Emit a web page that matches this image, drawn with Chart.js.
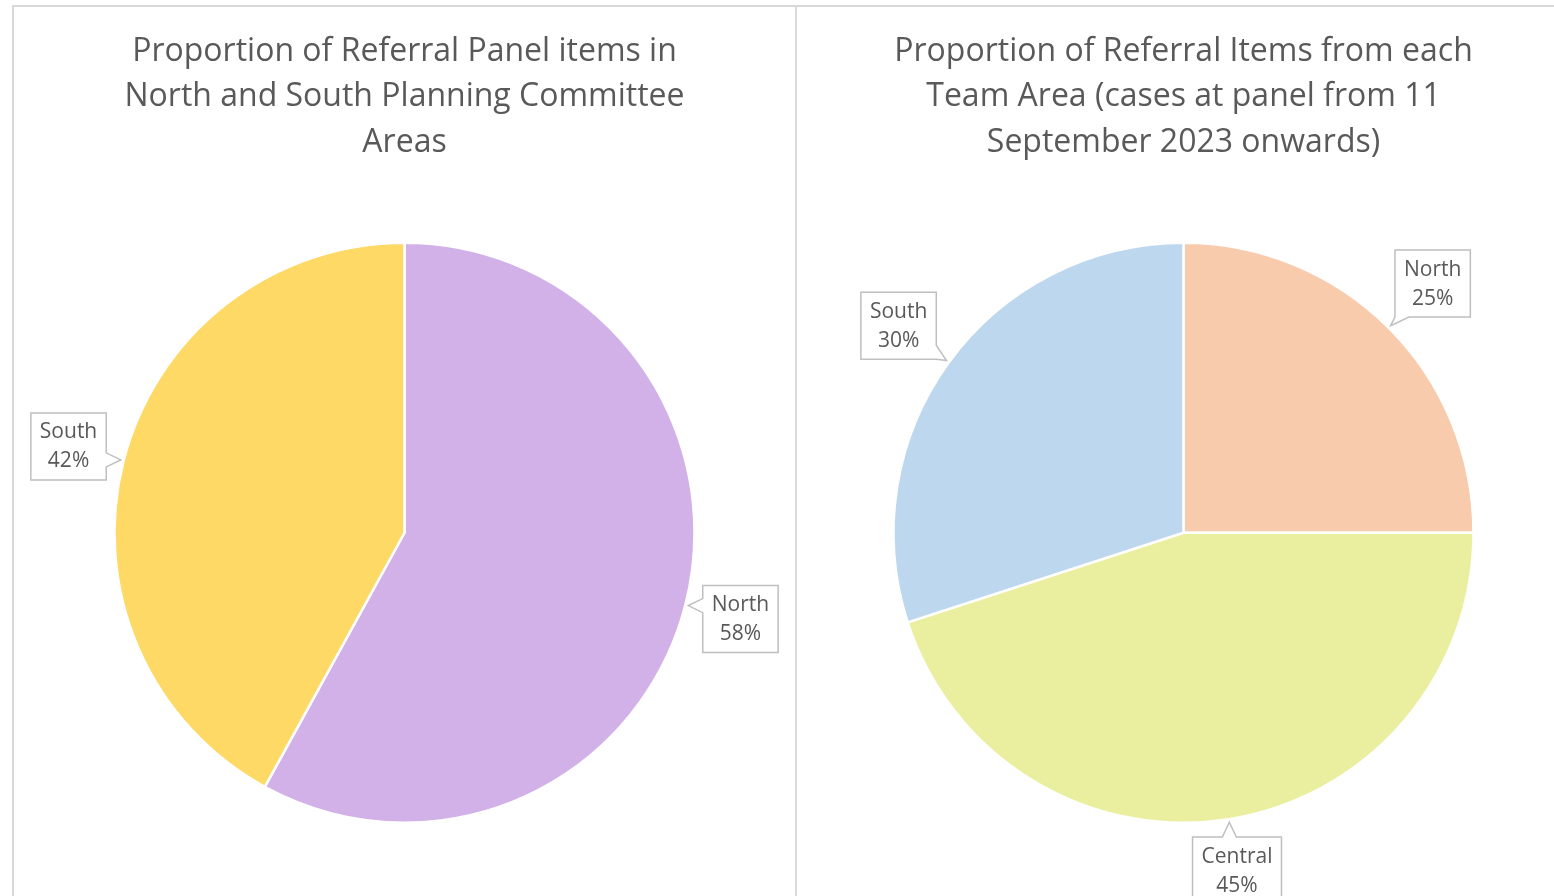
<!DOCTYPE html>
<html>
<head>
<meta charset="utf-8">
<script src="https://cdn.jsdelivr.net/npm/chart.js@4"></script>
<style>
  body { margin: 0; background: #fff; overflow: hidden; width: 1554px; height: 896px; }
  .panel { position: absolute; top: 5px; border-top: 2px solid #D9D9D9; }
  #leftPanel { left: 12px; border-left: 2px solid #D9D9D9; border-right: 2px solid #D9D9D9; }
  #rightPanel { left: 797px; }
  canvas { display: block; }
</style>
</head>
<body>
<div class="panel" id="leftPanel"><canvas id="leftChart" width="781" height="889"></canvas></div>
<div class="panel" id="rightPanel"><canvas id="rightChart" width="773" height="889"></canvas></div>
<script>
const leftTitle  = ["Proportion of Referral Panel items in", "North and South Planning Committee", "Areas"];
const leftLabels = ["North", "South"];
const leftValues = [58, 42];
const leftColors = ["#D1B1E8", "#FED966"];

const rightTitle  = ["Proportion of Referral Items from each", "Team Area (cases at panel from 11", "September 2023 onwards)"];
const rightLabels = ["North", "Central", "South"];
const rightValues = [25, 45, 30];
const rightColors = ["#F8CBAD", "#E9EF9F", "#BDD7EE"];

const FONT = "'Open Sans', sans-serif";
const TEXT = "#595959";

// box with a little pointer notch towards (px, py)
function calloutPath(ctx, l, t, r, b, px, py) {
  const over = { left: l - px, right: px - r, top: t - py, bottom: py - b };
  const side = Object.keys(over).reduce((a, k) => over[k] > over[a] ? k : a, "left");
  const n = 7;
  const clamp = (v, lo, hi) => Math.max(lo, Math.min(hi, v));
  ctx.beginPath();
  ctx.moveTo(l, t);
  if (side === "top") { const c = clamp(px, l + n, r - n); ctx.lineTo(c - n, t); ctx.lineTo(px, py); ctx.lineTo(c + n, t); }
  ctx.lineTo(r, t);
  if (side === "right") { const c = clamp(py, t + n, b - n); ctx.lineTo(r, c - n); ctx.lineTo(px, py); ctx.lineTo(r, c + n); }
  ctx.lineTo(r, b);
  if (side === "bottom") { const c = clamp(px, l + n, r - n); ctx.lineTo(c + n, b); ctx.lineTo(px, py); ctx.lineTo(c - n, b); }
  ctx.lineTo(l, b);
  if (side === "left") { const c = clamp(py, t + n, b - n); ctx.lineTo(l, c + n); ctx.lineTo(px, py); ctx.lineTo(l, c - n); }
  ctx.closePath();
}

const calloutPlugin = {
  id: "callouts",
  afterDatasetsDraw(chart) {
    const ctx = chart.ctx;
    const ds = chart.data.datasets[0];
    const total = ds.data.reduce((a, b) => a + b, 0);
    const meta = chart.getDatasetMeta(0);
    ctx.save();
    ctx.font = "21px " + FONT;
    meta.data.forEach((arc, i) => {
      const mid = (arc.startAngle + arc.endAngle) / 2;
      const dx = Math.cos(mid), dy = Math.sin(mid);
      const lines = [chart.data.labels[i], Math.round(ds.data[i] / total * 100) + "%"];
      const w = Math.max(...lines.map(s => ctx.measureText(s).width)) + 18;
      const h = 67;
      const dist = arc.outerRadius + 12 + Math.abs(dx) * w / 2 + Math.abs(dy) * h / 2;
      const cx = arc.x + dx * dist, cy = arc.y + dy * dist;
      const px = arc.x + dx * (arc.outerRadius + 3), py = arc.y + dy * (arc.outerRadius + 3);
      calloutPath(ctx, cx - w / 2, cy - h / 2, cx + w / 2, cy + h / 2, px, py);
      ctx.fillStyle = "#fff";
      ctx.fill();
      ctx.strokeStyle = "#BFBFBF";
      ctx.lineWidth = 1.5;
      ctx.stroke();
      ctx.fillStyle = TEXT;
      ctx.textAlign = "center";
      ctx.textBaseline = "middle";
      ctx.fillText(lines[0], cx, cy - 14);
      ctx.fillText(lines[1], cx, cy + 15);
    });
    ctx.restore();
  }
};

function makePie(id, title, labels, values, colors) {
  return new Chart(document.getElementById(id), {
    type: "pie",
    data: {
      labels: labels,
      datasets: [{
        data: values,
        backgroundColor: colors,
        borderColor: "#fff",
        borderWidth: 2.5
      }]
    },
    options: {
      responsive: false,
      animation: false,
      layout: { padding: { bottom: 72 } },
      plugins: {
        legend: { display: false },
        tooltip: { enabled: false },
        title: {
          display: true,
          text: title,
          color: TEXT,
          font: { family: FONT, size: 32, weight: "normal", lineHeight: "45.5px" },
          padding: { top: 22, bottom: 76 }
        }
      }
    },
    plugins: [calloutPlugin]
  });
}

makePie("leftChart", leftTitle, leftLabels, leftValues, leftColors);
makePie("rightChart", rightTitle, rightLabels, rightValues, rightColors);
</script>
</body>
</html>
